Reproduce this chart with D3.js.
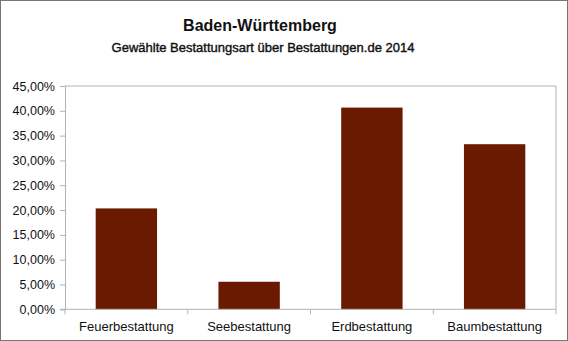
<!DOCTYPE html>
<html><head><meta charset="utf-8">
<script src="https://cdn.jsdelivr.net/npm/d3@7"></script>
<style>body{margin:0;background:#fff}svg{display:block}</style>
</head><body>
<script>
const categories = ["Feuerbestattung","Seebestattung","Erdbestattung","Baumbestattung"];
const values = [0.2033, 0.0555, 0.4065, 0.3327];
const yTicks = [0,0.05,0.10,0.15,0.20,0.25,0.30,0.35,0.40,0.45];
const title = "Baden-Württemberg";
const subtitle = "Gewählte Bestattungsart über Bestattungen.de 2014";

const W=568,H=341;
const m={left:65,right:556,top:86,bottom:309.3};
const svg=d3.select("body").append("svg").attr("width",W).attr("height",H);
svg.append("rect").attr("x",0.5).attr("y",0.5).attr("width",W-1).attr("height",H-1).attr("fill","#fff").attr("stroke","#767676");

const x=d3.scaleBand().domain(categories).range([m.left,m.right]).paddingInner(0.5).paddingOuter(0.25);
const y=d3.scaleLinear().domain([0,0.45]).range([m.bottom,m.top]);
const font="'Liberation Sans', Arial, sans-serif";

svg.append("text").attr("x",260).attr("y",31).attr("text-anchor","middle").attr("font-family",font).attr("font-weight","bold").attr("font-size",16).attr("fill","#111").text(title);
svg.append("text").attr("x",263).attr("y",52).attr("text-anchor","middle").attr("font-family",font).attr("font-size",13).attr("fill","#111").attr("stroke","#111").attr("stroke-width",0.4).text(subtitle);

// plot frame
svg.append("path").attr("d",`M${m.left},${y(0.45)}H${m.right}V${m.bottom}`).attr("fill","none").attr("stroke","#b3b3b3");

const fmt=v=>(v*100).toFixed(2).replace(".",",")+"%";
const ya=svg.append("g").attr("transform",`translate(${m.left},0)`).call(d3.axisLeft(y).tickValues(yTicks).tickFormat(fmt).tickSizeOuter(0).tickSize(5).tickPadding(5));
ya.select(".domain").attr("stroke","#b3b3b3");
ya.selectAll(".tick line").attr("stroke","#b3b3b3");
ya.selectAll("text").attr("font-family",font).attr("font-size",12.5).attr("fill","#111");

// bars
svg.selectAll("rect.bar").data(values).join("rect").attr("class","bar")
 .attr("x",(d,i)=>x(categories[i])).attr("width",x.bandwidth())
 .attr("y",d=>y(d)).attr("height",d=>y(0)-y(d)).attr("fill","#6a1a00");

// x axis
const xa=svg.append("g").attr("transform",`translate(0,${m.bottom})`);
xa.append("line").attr("x1",m.left-5).attr("x2",m.right).attr("stroke","#b3b3b3");
const bounds=d3.range(categories.length+1).map(i=>m.left+i*(m.right-m.left)/categories.length);
xa.selectAll("line.tk").data(bounds).join("line").attr("class","tk").attr("x1",d=>d).attr("x2",d=>d).attr("y1",0).attr("y2",5).attr("stroke","#b3b3b3");
xa.selectAll("text").data(categories).join("text").attr("x",d=>x(d)+x.bandwidth()/2).attr("y",22).attr("text-anchor","middle").attr("font-family",font).attr("font-size",13).attr("fill","#111").text(d=>d);
</script>
</body></html>
